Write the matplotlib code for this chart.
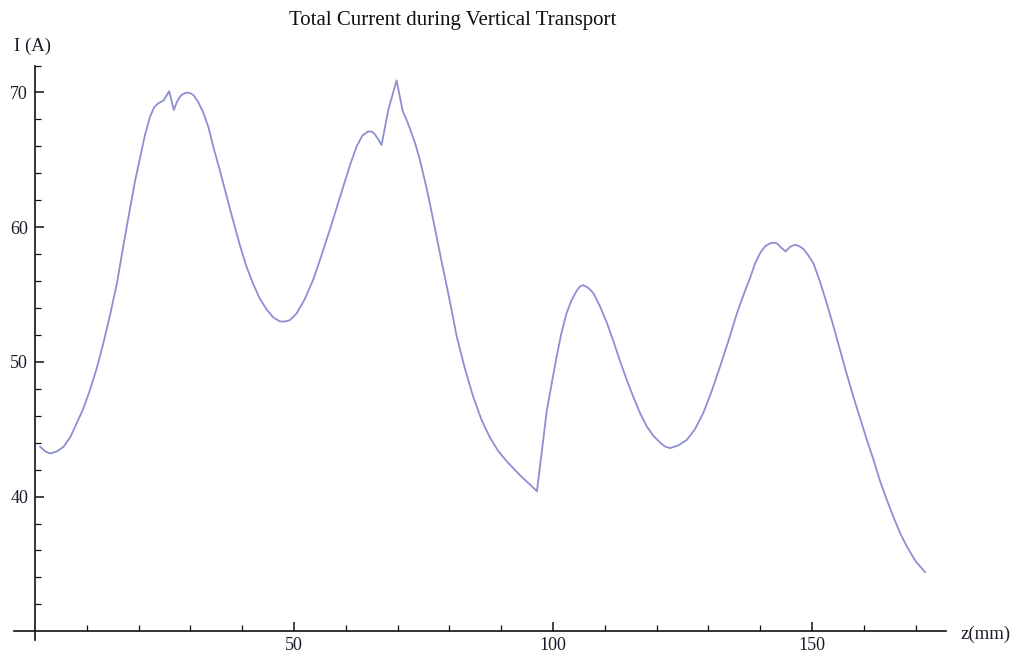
import matplotlib
matplotlib.use("Agg")
import matplotlib.pyplot as plt

# Data: z (mm) and total current I (A)
z_mm = [1.0, 2.0, 2.9, 4.2, 5.5, 6.8, 8.0, 9.3, 10.6, 11.9, 13.2, 14.5, 15.8, 17.0, 18.3,
        19.3, 20.3, 21.2, 22.2, 23.0, 23.8, 24.8, 25.9, 26.8, 27.4, 28.0, 28.6, 29.3,
        30.0, 30.6, 31.5, 32.5, 33.5, 34.4, 35.7, 37.0, 38.3, 39.6, 40.8, 42.1, 43.4,
        44.7, 46.0, 47.3, 48.3, 49.2, 50.5, 52.0, 53.7, 55.3, 56.9, 58.2, 59.5, 60.8,
        62.1, 63.2, 64.3, 65.0, 65.6, 66.3, 66.9, 68.2, 69.8, 71.0, 71.7, 72.4, 73.4,
        74.3, 75.6, 76.9, 78.2, 79.5, 80.5, 81.4, 83.0, 84.6, 86.2, 87.8, 89.4, 91.1,
        93.6, 96.9, 98.8, 100.7, 101.6, 102.6, 103.6, 104.6, 105.2, 105.8, 106.8, 107.8,
        109.1, 110.4, 111.7, 112.9, 114.2, 115.5, 116.8, 118.1, 119.4, 120.7, 121.7,
        122.6, 124.2, 125.8, 127.4, 129.0, 130.6, 132.2, 133.9, 135.5, 136.8, 138.1,
        139.0, 140.0, 141.0, 141.9, 142.6, 143.2, 144.0, 144.9, 145.8, 146.7, 147.5,
        148.3, 149.3, 150.3, 151.5, 152.8, 154.1, 155.4, 156.7, 158.0, 159.3, 160.6,
        161.9, 163.1, 164.4, 165.7, 167.0, 168.3, 170.0, 171.8]
current_A = [43.7, 43.35, 43.2, 43.35, 43.7, 44.4, 45.4, 46.5, 47.9, 49.5, 51.4, 53.5, 55.8,
             58.5, 61.3, 63.4, 65.2, 66.8, 68.2, 68.9, 69.2, 69.4, 70.1, 68.7, 69.3, 69.7,
             69.9, 70.0, 69.95, 69.8, 69.3, 68.5, 67.4, 66.0, 64.2, 62.3, 60.4, 58.6, 57.1,
             55.8, 54.7, 53.9, 53.3, 53.0, 53.0, 53.1, 53.6, 54.6, 56.1, 57.9, 59.8, 61.4,
             63.0, 64.6, 66.0, 66.8, 67.1, 67.1, 66.9, 66.5, 66.1, 68.7, 70.9, 68.6, 68.0,
             67.3, 66.2, 65.0, 62.9, 60.5, 58.0, 55.6, 53.7, 51.9, 49.5, 47.4, 45.7, 44.4,
             43.4, 42.6, 41.6, 40.4, 46.4, 50.4, 52.1, 53.6, 54.6, 55.3, 55.6, 55.7, 55.5,
             55.1, 54.1, 52.9, 51.5, 50.1, 48.7, 47.4, 46.2, 45.2, 44.5, 44.0, 43.7, 43.6,
             43.8, 44.2, 45.0, 46.2, 47.8, 49.6, 51.6, 53.6, 55.0, 56.3, 57.3, 58.1, 58.6,
             58.8, 58.85, 58.8, 58.5, 58.2, 58.55, 58.7, 58.6, 58.4, 57.9, 57.3, 56.0, 54.4,
             52.7, 50.9, 49.1, 47.4, 45.8, 44.2, 42.7, 41.2, 39.8, 38.5, 37.3, 36.3, 35.2,
             34.4]

x_major = [50, 100, 150]
x_minor = [10, 20, 30, 40, 60, 70, 80, 90, 110, 120, 130, 140, 160, 170]
y_major = [40, 50, 60, 70]
y_minor = [32, 34, 36, 38, 42, 44, 46, 48, 52, 54, 56, 58, 62, 64, 66, 68, 72]

title = "Total Current during Vertical Transport"
xlabel = "z(mm)"
ylabel = "I (A)"

plt.rcParams['font.family'] = ['Liberation Serif', 'DejaVu Serif']

fig = plt.figure(figsize=(10.2, 6.63), dpi=100)
ax = fig.add_axes([0, 0, 1, 1])
ax.set_facecolor('white')

ax.plot(z_mm, current_A, color='#8e8ed2', lw=1.3, solid_joinstyle='round')

ax.set_xlim(-6.757, 190.15)
ax.set_ylim(27.647, 76.867)

for s in ['top', 'right']:
    ax.spines[s].set_visible(False)
ax.spines['left'].set_position(('data', 0))
ax.spines['bottom'].set_position(('data', 30))
ax.spines['left'].set_bounds(29.35, 72.0)
ax.spines['bottom'].set_bounds(-4.05, 175.8)
for s in ['left', 'bottom']:
    ax.spines[s].set_linewidth(1.2)
    ax.spines[s].set_color('#111111')

ax.set_xticks(x_major)
ax.set_xticks(x_minor, minor=True)
ax.set_yticks(y_major)
ax.set_yticks(y_minor, minor=True)
ax.tick_params(axis='both', which='major', direction='in', length=6.3, width=1.1,
               color='#111111', labelsize=13, labelcolor='#1a1a2a')
ax.tick_params(axis='both', which='minor', direction='in', length=4.0, width=0.9,
               color='#111111')
ax.tick_params(axis='y', which='major', pad=5)
ax.tick_params(axis='x', which='major', pad=4)

fig.text(453 / 1020, 1 - 20 / 663, title, ha='center', va='center', fontsize=15,
         color='#111111')
fig.text(33 / 1020, 1 - 46 / 663, ylabel, ha='center', va='center', fontsize=13.5,
         color='#1a1a2a')
fig.text(960 / 1020, 1 - 634 / 663, xlabel, ha='left', va='center', fontsize=13.5,
         color='#1a1a2a')

fig.savefig('out.png', dpi=100, facecolor='white')
